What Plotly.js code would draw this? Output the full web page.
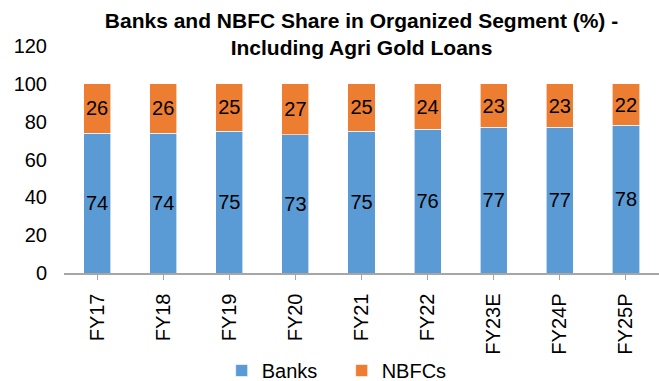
<!DOCTYPE html>
<html><head><meta charset="utf-8">
<script src="https://cdn.plot.ly/plotly-3.0.1.min.js"></script>
<style>html,body{margin:0;padding:0;background:#fff}</style>
</head><body><div id="c" style="width:659px;height:381px"></div>
<script>
const categories = ["FY17","FY18","FY19","FY20","FY21","FY22","FY23E","FY24P","FY25P"];
const banks = [74,74,75,73,75,76,77,77,78];
const nbfcs = [26,26,25,27,25,24,23,23,22];
const fnt = {family:"Liberation Sans, Arial, sans-serif", size:20, color:"#000"};
const traces = [
 {type:"bar", name:"Banks", x:categories, y:banks, marker:{color:"#5B9BD5", line:{color:"#fff", width:0.6}},
  text:banks.map(String), textposition:"inside", insidetextanchor:"middle", textangle:0, constraintext:"none",
  textfont:fnt, hoverinfo:"skip"},
 {type:"bar", name:"NBFCs", x:categories, y:nbfcs, marker:{color:"#ED7D31", line:{color:"#fff", width:0.6}},
  text:nbfcs.map(String), textposition:"inside", insidetextanchor:"middle", textangle:0, constraintext:"none",
  textfont:fnt, hoverinfo:"skip"}
];
const layout = {
 width:659, height:381, barmode:"stack", bargap:0.59,
 margin:{l:64, r:0, t:46, b:108},
 paper_bgcolor:"#fff", plot_bgcolor:"#fff",
 font:fnt, uniformtext:{mode:false},
 title:{text:"<b>Banks and NBFC Share in Organized Segment (%) -<br>Including Agri Gold Loans</b>",
   font:{family:"Liberation Sans, Arial, sans-serif", size:21, color:"#000"}, x:0.5, xref:"paper", xanchor:"center",
   yref:"container", y:0.926, yanchor:"middle"},
 xaxis:{type:"category", tickangle:-90, showline:true, linecolor:"#A6A6A6", linewidth:1.5, automargin:false,
   ticks:"outside", ticklen:5, tickcolor:"#A6A6A6", showgrid:false, tickfont:fnt, ticklabelstandoff:6},
 yaxis:{range:[0,120], dtick:20, showgrid:false, showline:false, zeroline:false, ticks:"", tickfont:fnt,
   ticklabelstandoff:16, automargin:false},
 legend:{orientation:"h", x:0.265, xanchor:"left", yref:"container", y:0.0787, yanchor:"top", font:fnt,
   bgcolor:"rgba(0,0,0,0)", traceorder:"normal", entrywidth:75, entrywidthmode:"pixels", itemwidth:30, tracegroupgap:0},
 showlegend:true
};
Plotly.newPlot("c", traces, layout, {displayModeBar:false, staticPlot:true});
</script></body></html>
